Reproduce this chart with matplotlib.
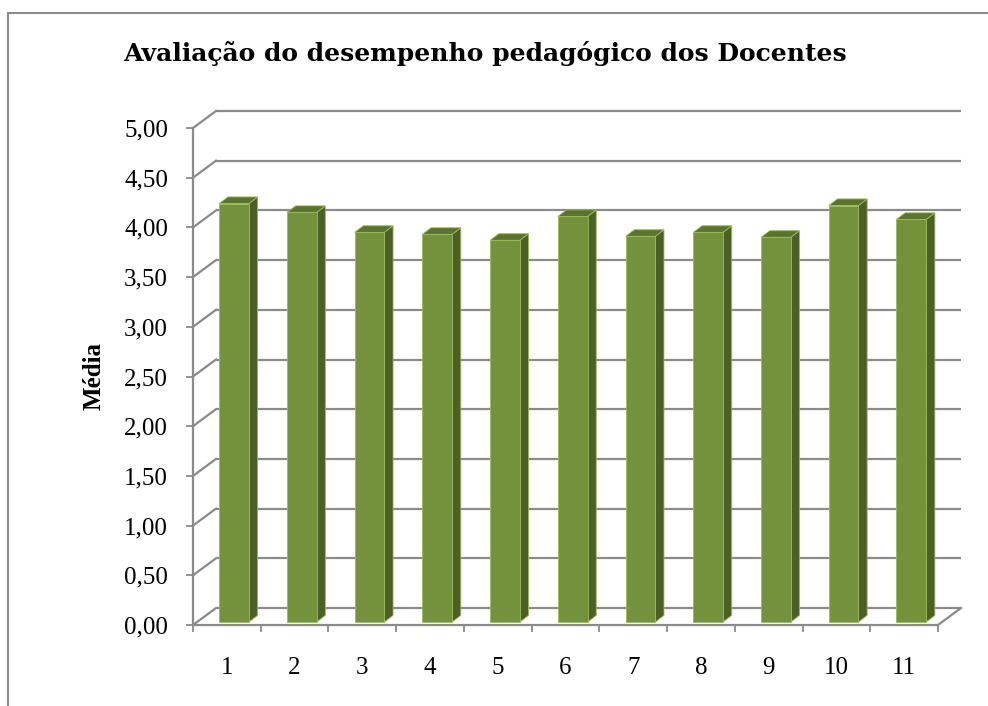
import numpy as np
import matplotlib.pyplot as plt
from matplotlib.patches import Polygon, Rectangle

plt.rcParams['font.family'] = ['Liberation Serif', 'DejaVu Serif']

categories = ['1', '2', '3', '4', '5', '6', '7', '8', '9', '10', '11']
medias = [4.21, 4.12, 3.92, 3.90, 3.84, 4.08, 3.88, 3.92, 3.87, 4.19, 4.05]
yticks = np.arange(0, 5.01, 0.5)
ytick_labels = ['%.2f' % t for t in yticks]
ytick_labels = [s.replace('.', ',') for s in ytick_labels]
title = 'Avaliação do desempenho pedagógico dos Docentes'

W, H = 988, 706
fig = plt.figure(figsize=(W / 100, H / 100), dpi=100)
ax = fig.add_axes([193 / W, (H - 625) / H, 745 / W, 497 / H])
n = len(categories)
ax.set_xlim(0.5, n + 0.5)
ax.set_ylim(0, 5)
for s in ax.spines.values():
    s.set_visible(False)

# pixel -> data conversion
sx = n / 745.0
sy = 5.0 / 497.0
grid_col = '#8a8a8a'
lw = 1.6

# back wall depth
ddx, ddy = 23 * sx, 17 * sy

for t in yticks:
    ax.plot([0.5 + ddx, n + 0.5 + ddx], [t + ddy, t + ddy], color=grid_col, lw=lw, clip_on=False, zorder=1, solid_capstyle='butt')
    ax.plot([0.5, 0.5 + ddx], [t, t + ddy], color=grid_col, lw=lw, clip_on=False, zorder=1)

# floor and front axis
ax.plot([0.5, n + 0.5], [0, 0], color=grid_col, lw=lw, clip_on=False, zorder=1)
ax.plot([n + 0.5, n + 0.5 + ddx], [0, ddy], color=grid_col, lw=lw, clip_on=False, zorder=1)
ax.plot([0.5, 0.5], [0, 5], color=grid_col, lw=lw, clip_on=False, zorder=1)

# bars
bw = 29.7 * sx
ox, oy = 7.2 * sx, 3 * sy
bdx, bdy = 8.7 * sx, 6.6 * sy
front_col = '#74923c'
side_col = '#4b5f26'
top_col = '#5b742d'
edge_col = '#9bbb59'
for i, v in enumerate(medias):
    x0 = i + 1 - bw / 2 + ox
    x1 = x0 + bw
    y0 = oy
    y1 = v + oy
    front = [(x0, y0), (x1, y0), (x1, y1), (x0, y1)]
    side = [(x1, y0), (x1 + bdx, y0 + bdy), (x1 + bdx, y1 + bdy), (x1, y1)]
    top = [(x0, y1), (x1, y1), (x1 + bdx, y1 + bdy), (x0 + bdx, y1 + bdy)]
    ax.add_patch(Polygon(side, closed=True, facecolor=side_col, edgecolor=edge_col, lw=0.6, zorder=3, clip_on=False))
    ax.add_patch(Polygon(top, closed=True, facecolor=top_col, edgecolor=edge_col, lw=0.6, zorder=3, clip_on=False))
    ax.add_patch(Polygon(front, closed=True, facecolor=front_col, edgecolor=edge_col, lw=0.6, zorder=4, clip_on=False))

# ticks
ax.set_yticks(yticks)
ax.set_yticklabels(ytick_labels, fontsize=18)
ax.tick_params(axis='y', direction='out', length=5, width=1.3, color=grid_col, pad=13)
ax.set_xticks(np.arange(0.5, n + 1, 1.0))
ax.set_xticklabels([])
ax.set_xticks(np.arange(1, n + 1), minor=True)
ax.set_xticklabels(categories, minor=True, fontsize=18)
ax.tick_params(axis='x', which='major', direction='out', length=5, width=1.3, color=grid_col)
ax.tick_params(axis='x', which='minor', length=0, pad=23)

ax.set_ylabel('Média', fontsize=18, fontweight='bold', labelpad=13)
fig.text(485 / W, 1 - 53 / H, title, fontsize=18, fontweight='bold', ha='center', va='center',
         family=['DejaVu Serif'])

# chart border
fig.patches.append(Rectangle((8 / W, -0.1), 1.2, 1 - 13 / H + 0.1, transform=fig.transFigure,
                             fill=False, edgecolor='#8c8c8c', lw=1.5))

fig.savefig('out.png', dpi=100)
